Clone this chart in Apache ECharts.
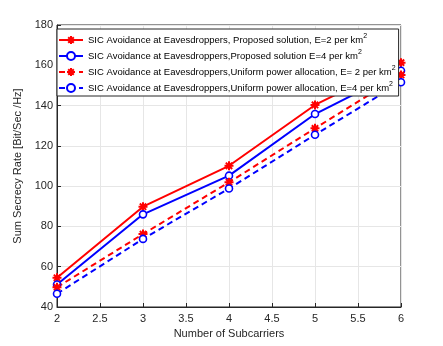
<!DOCTYPE html>
<html><head><meta charset="utf-8">
<script src="https://cdn.jsdelivr.net/npm/echarts@6/dist/echarts.min.js"></script>
<style>html,body{margin:0;padding:0;background:#fff}#c{width:443px;height:346px}</style>
</head><body><div id="c"></div>
<script>
const xValues = [2, 3, 4, 5, 6];
const redSolid = [54.5, 89.8, 110.1, 140.3, 161.3];
const blueSolid = [51.2, 86.0, 105.2, 135.8, 157.3];
const redDash = [49.8, 76.2, 101.9, 128.7, 155.2];
const blueDash = [46.6, 73.8, 98.8, 125.5, 151.6];
const seriesNames = [
  'SIC Avoidance at Eavesdroppers, Proposed solution, E=2 per km²',
  'SIC Avoidance at Eavesdroppers,Proposed solution E=4 per km²',
  'SIC Avoidance at Eavesdroppers,Uniform power allocation, E= 2 per km²',
  'SIC Avoidance at Eavesdroppers,Uniform power allocation, E=4 per km²'
];
const xTitle = 'Number of Subcarriers';
const yTitle = 'Sum Secrecy Rate [Bit/Sec /Hz]';

const RED = '#ff0000', BLUE = '#0000ff', AX = '#262626';
const FONT = '"Liberation Sans", Arial, sans-serif';
const star = 'path://M0,-10L0,10M-10,0L10,0M-7,-7L7,7M-7,7L7,-7';
function pts(arr){ return xValues.map((x,i)=>[x, arr[i]]); }
function mk(name, data, color, dashed, isStar){
  return {
    name, type:'line', data: pts(data), clip:false,
    symbol: isStar ? star : 'circle',
    symbolSize: isStar ? 9 : 7,
    showAllSymbol: true,
    lineStyle:{color, width:2, type: dashed ? [6,4] : 'solid'},
    itemStyle:{color: isStar ? color : '#fff', borderColor: color, borderWidth: isStar ? 2 : 1.6},
    emphasis:{disabled:true}, animation:false
  };
}
const chart = echarts.init(document.getElementById('c'), null, {renderer:'canvas'});
chart.setOption({
  backgroundColor:'#fff',
  animation:false,
  textStyle:{fontFamily:FONT},
  grid:{left:57, right:42, top:25, bottom:39, show:true, borderColor:AX, borderWidth:1, backgroundColor:'#fff'},
  legend:{
    orient:'vertical', left:57, top:29,
    backgroundColor:'#fff', borderColor:AX, borderWidth:1, borderRadius:0,
    padding:[4,3,3,1], itemGap:4, itemWidth:24, itemHeight:10,
    textStyle:{fontFamily:FONT, fontSize:9.5, color:'#000', rich:{sup:{fontSize:7, verticalAlign:'top', padding:[0,0,7,0], fontFamily:FONT, color:'#000'}}},
    formatter: n => n.replace('km²', 'km{sup|2}'),
    data: seriesNames
  },
  xAxis:{
    type:'value', min:2, max:6, interval:0.5,
    name:xTitle, nameLocation:'middle', nameGap:20,
    nameTextStyle:{fontSize:11, color:AX, fontFamily:FONT},
    axisLine:{lineStyle:{color:AX}},
    axisTick:{inside:true, length:4, lineStyle:{color:AX}},
    axisLabel:{fontSize:11, color:AX, margin:6, fontFamily:FONT},
    splitLine:{show:true, lineStyle:{color:'#e6e6e6'}}
  },
  yAxis:{
    type:'value', min:40, max:180, interval:20,
    name:yTitle, nameLocation:'middle', nameGap:24,
    nameTextStyle:{fontSize:11, color:AX, fontFamily:FONT},
    axisLine:{show:true, lineStyle:{color:AX}},
    axisTick:{show:true, inside:true, length:4, lineStyle:{color:AX}},
    axisLabel:{fontSize:11, color:AX, margin:4, fontFamily:FONT},
    splitLine:{show:true, lineStyle:{color:'#e6e6e6'}}
  },
  series:[
    mk(seriesNames[0], redSolid, RED, false, true),
    mk(seriesNames[1], blueSolid, BLUE, false, false),
    mk(seriesNames[2], redDash, RED, true, true),
    mk(seriesNames[3], blueDash, BLUE, true, false)
  ]
});
</script></body></html>
